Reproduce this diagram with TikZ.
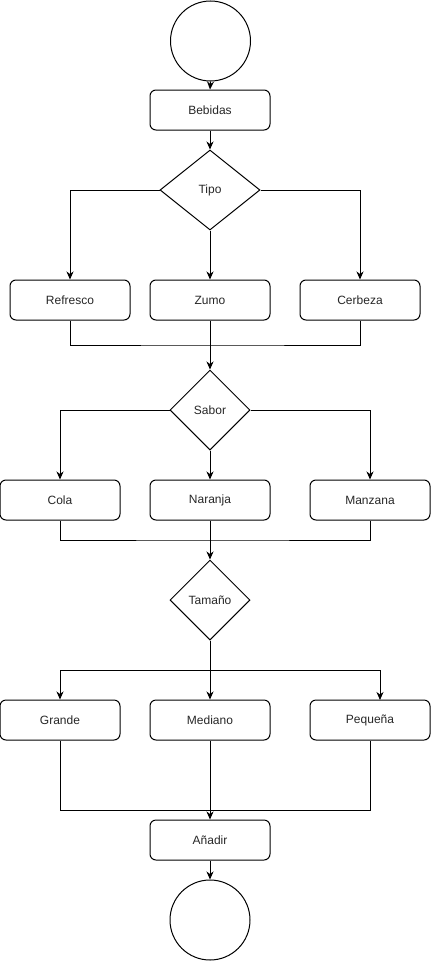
\documentclass[tikz,border=0pt]{standalone}
\usepackage{fontspec}
\setmainfont{Liberation Sans}
\usetikzlibrary{shapes.geometric,arrows.meta}
\begin{document}
\begin{tikzpicture}[x=1pt,y=-1pt,
  every node/.style={font=\fontsize{12}{14}\selectfont, text=black!85},
  box/.style={draw, rounded corners=6pt, minimum width=120pt, minimum height=40pt, inner sep=0pt, line width=1pt},
  dec/.style={draw, diamond, inner sep=0pt, line width=1pt},
  term/.style={draw, circle, minimum size=80pt, inner sep=0pt, line width=1pt},
  line/.style={line width=1pt},
  arr/.style={line width=1pt, -{Stealth[length=8pt,width=7pt,inset=2.5pt]}}
]
\useasboundingbox (0,0) rectangle (431,961);
% nodes
\node[term] (start) at (210.5,41) {};
\node[box] (bebidas) at (210,110) {Bebidas};
\node[dec, minimum width=100pt, minimum height=80pt, aspect=1.25] (tipo) at (210,190) {Tipo};
\node[box] (refresco) at (70,300) {Refresco};
\node[box] (zumo) at (210,300) {Zumo};
\node[box] (cerbeza) at (360,300) {Cerbeza};
\node[dec, minimum width=80pt, minimum height=80pt, aspect=1] (sabor) at (210,410) {Sabor};
\node[box] (cola) at (60,500) {Cola};
\node[box] (naranja) at (210,500) {Naranja};
\node[box] (manzana) at (370,500) {Manzana};
\node[dec, minimum width=80pt, minimum height=80pt, aspect=1] (tamano) at (210,600) {Tamaño};
\node[box] (grande) at (60,720) {Grande};
\node[box] (mediano) at (210,720) {Mediano};
\node[box] (pequena) at (370,720) {Pequeña};
\node[box] (anadir) at (210,840) {Añadir};
\node[term] (fin) at (210,920) {};
% helper coordinates
\coordinate (m1) at (210,345);
\coordinate (m2) at (210,540);
\coordinate (b3) at (210,670);
\coordinate (p3) at (380,700);
\coordinate (m4) at (210,810);
% connectors
\draw[arr] (start.south) -- (bebidas.north);
\draw[arr] (bebidas.south) -- (tipo.north);
\draw[arr] (tipo.west) -| (refresco.north);
\draw[arr] (tipo.south) -- (zumo.north);
\draw[arr] (tipo.east) -| (cerbeza.north);
\draw[line] (refresco.south) |- (m1) -| (cerbeza.south);
\draw[arr] (zumo.south) -- (sabor.north);
\draw[arr] (sabor.west) -| (cola.north);
\draw[arr] (sabor.south) -- (naranja.north);
\draw[arr] (sabor.east) -| (manzana.north);
\draw[line] (cola.south) |- (m2) -| (manzana.south);
\draw[arr] (naranja.south) -- (tamano.north);
\draw[arr] (tamano.south) -- (mediano.north);
\draw[arr] (b3) -| (grande.north);
\draw[arr] (b3) -| (p3);
\draw[line] (grande.south) |- (m4) -| (pequena.south);
\draw[arr] (mediano.south) -- (anadir.north);
\draw[arr] (anadir.south) -- (fin.north);
\end{tikzpicture}
\end{document}
